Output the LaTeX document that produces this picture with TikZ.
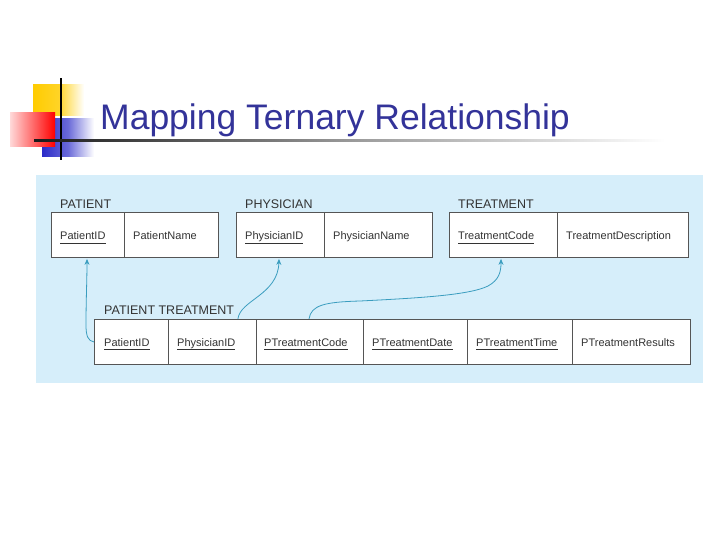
\documentclass[tikz,border=0pt]{standalone}
\usepackage{fontspec}
\setmainfont{Liberation Sans}
\usetikzlibrary{arrows.meta}
\definecolor{panel}{HTML}{D6EEFA}
\definecolor{titleblue}{HTML}{333399}
\definecolor{conncol}{HTML}{3A9DBF}
\definecolor{txt}{HTML}{333333}
\definecolor{boxline}{HTML}{555555}
\definecolor{decoyellow}{HTML}{FFCC00}
\definecolor{decoblue}{HTML}{2B2BC8}
\tikzset{
  cellbox/.style={draw=boxline, line width=0.9pt, fill=white, anchor=north west, inner sep=0pt, minimum height=45pt},
  fld/.style={anchor=base west, inner sep=0pt, text=txt, font=\fontsize{11}{13}\selectfont},
  lbl/.style={anchor=base west, inner sep=0pt, text=txt, font=\fontsize{12.5}{14}\selectfont},
  ul/.style={draw=txt, line width=0.7pt},
  conn/.style={draw=conncol, line width=0.8pt, -{Stealth[length=6pt,width=5pt]}}
}
\newcommand{\ulfield}[1]{\draw[ul] ([yshift=-3pt]#1.base west) -- ([yshift=-3pt]#1.base east);}
\begin{document}
\begin{tikzpicture}[x=1pt,y=-1pt]
\useasboundingbox (0,0) rectangle (720,540);
\fill[white] (0,0) rectangle (720,540);
% decoration
\shade[left color=decoyellow, right color=white, middle color=decoyellow!85] (33,85) rectangle (84,116);
\shade[left color=decoblue, right color=white, middle color=decoblue!70] (42,119) rectangle (94,157);
\shade[left color=red!15, right color=red] (10,113) rectangle (55,147);
\fill[black] (60,78) rectangle (62,160);
\shade[left color=black!90, right color=white, middle color=gray!80] (34,140) rectangle (665,142);
\node[anchor=base west, inner sep=0pt, text=titleblue, font=\fontsize{35.5}{40}\selectfont] (title) at (100,130) {Mapping Ternary Relationship};
% panel
\fill[panel] (36,175) rectangle (703,383);
% labels
\node[lbl] (lp) at (60,208) {PATIENT};
\node[lbl] (lph) at (245,208) {PHYSICIAN};
\node[lbl] (ltr) at (458,208) {TREATMENT};
\node[lbl] (lpt) at (104,314) {PATIENT TREATMENT};
% PATIENT
\node[cellbox, minimum width=73pt] (a1) at (51,212) {};
\node[cellbox, minimum width=94pt] (a2) at (124,212) {};
% PHYSICIAN
\node[cellbox, minimum width=88pt] (b1) at (236,212) {};
\node[cellbox, minimum width=108pt] (b2) at (324,212) {};
% TREATMENT
\node[cellbox, minimum width=108pt] (c1) at (449,212) {};
\node[cellbox, minimum width=131pt] (c2) at (557,212) {};
% PATIENT TREATMENT
\node[cellbox, minimum width=74pt] (d1) at (94,319) {};
\node[cellbox, minimum width=88pt] (d2) at (168,319) {};
\node[cellbox, minimum width=107pt] (d3) at (256,319) {};
\node[cellbox, minimum width=104pt] (d4) at (363,319) {};
\node[cellbox, minimum width=105pt] (d5) at (467,319) {};
\node[cellbox, minimum width=118pt] (d6) at (572,319) {};
% fields
\node[fld] (fa1) at (60,240) {PatientID}; \ulfield{fa1}
\node[fld] (fa2) at (133,240) {PatientName};
\node[fld] (fb1) at (245,240) {PhysicianID}; \ulfield{fb1}
\node[fld] (fb2) at (333,240) {PhysicianName};
\node[fld] (fc1) at (458,240) {TreatmentCode}; \ulfield{fc1}
\node[fld] (fc2) at (566,240) {TreatmentDescription};
\node[fld] (fd1) at (104,346) {PatientID}; \ulfield{fd1}
\node[fld] (fd2) at (177,346) {PhysicianID}; \ulfield{fd2}
\node[fld] (fd3) at (264,346) {PTreatmentCode}; \ulfield{fd3}
\node[fld] (fd4) at (372,346) {PTreatmentDate}; \ulfield{fd4}
\node[fld] (fd5) at (476,346) {PTreatmentTime}; \ulfield{fd5}
\node[fld] (fd6) at (581,346) {PTreatmentResults};
% connectors
\coordinate (t1) at ([xshift=36pt,yshift=-1pt]a1.south west);
\coordinate (t2) at ([xshift=43pt,yshift=-1pt]b1.south west);
\coordinate (t3) at ([xshift=52pt,yshift=-1pt]c1.south west);
\draw[conn] (d1.west) .. controls (88,341) and (86,336) .. (86,325) .. controls (86,300) and (87,280) .. (t1);
\draw[conn] ([xshift=-19pt]d2.north east) .. controls (240,300) and (278,295) .. (t2);
\draw[conn] ([xshift=53pt]d3.north west) .. controls (311,305) and (325,302) .. (360,301) .. controls (420,298) and (470,295) .. (488,286) .. controls (499,280) and (501,272) .. (t3);
\end{tikzpicture}
\end{document}
